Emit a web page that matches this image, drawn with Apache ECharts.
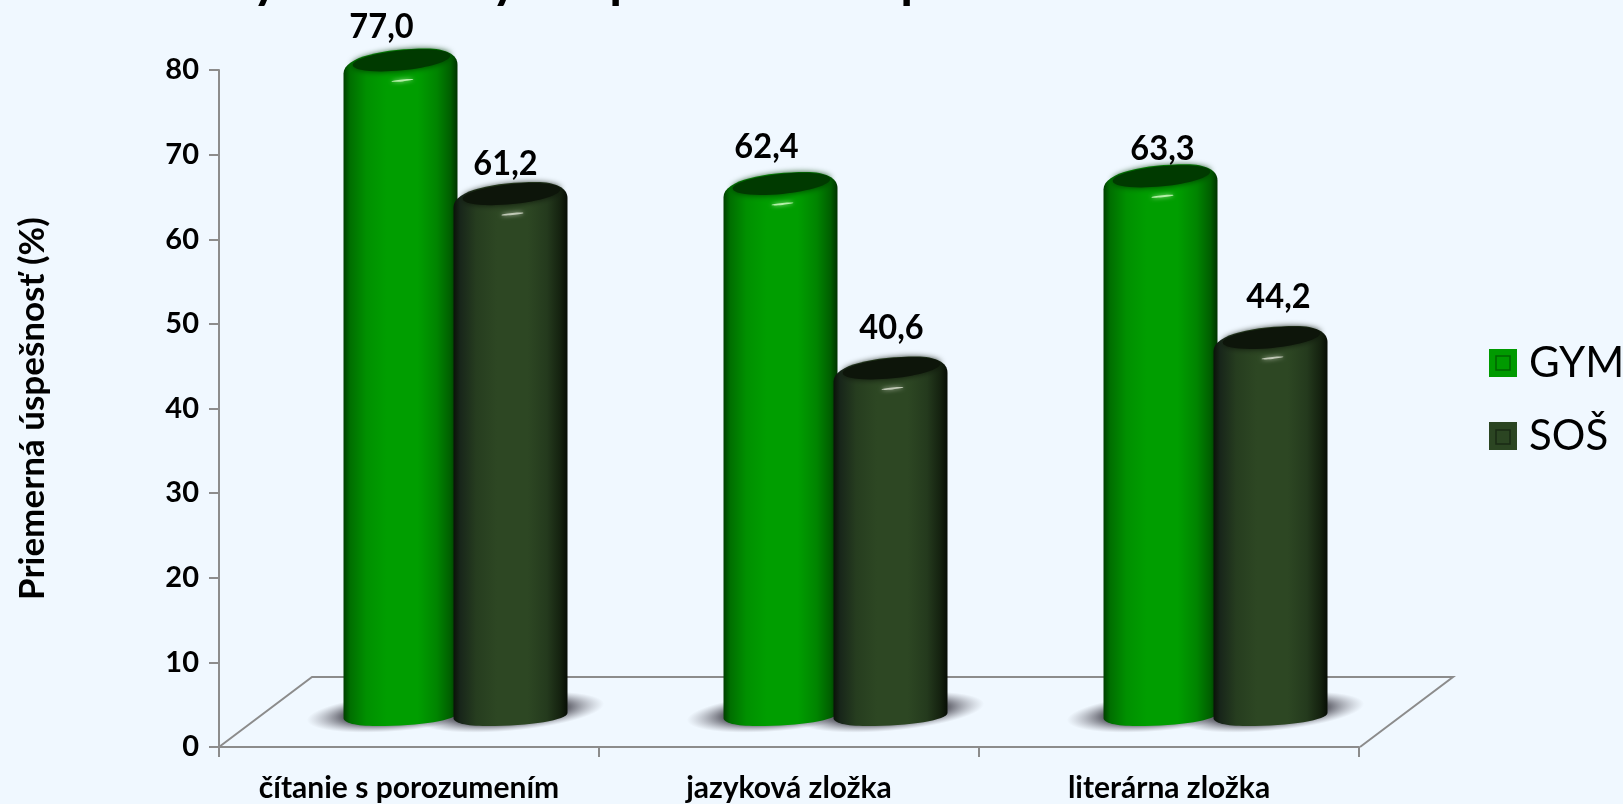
<!DOCTYPE html>
<html><head><meta charset="utf-8">
<style>html,body{margin:0;padding:0;background:#f0f8ff}#c{width:1623px;height:804px}</style>
<script src="https://cdn.jsdelivr.net/npm/echarts@6/dist/echarts.min.js"></script>
</head><body><div id="c"></div>
<script>
const categories = ['čítanie s porozumením', 'jazyková zložka', 'literárna zložka'];
const gymValues = [77.0, 62.4, 63.3];
const sosValues = [61.2, 40.6, 44.2];
const yTicks = {min: 0, max: 80, interval: 10};
const yTitle = 'Priemerná úspešnosť (%)';

const DEPTH_X = 46.5, DEPTH_Y = -35, RX = 57, OFFSET = 55;
const gymNudge = [[-19,-34],[-14,-37],[2,-28]];
const sosNudge = [[-5,-30],[1,-41],[8,-41]];
const gymStyle = {stops:['#003f00','#006f00','#009000','#009e00','#009e00','#008400','#005e00','#003300'], cap:'#003a00', glow:'#b4f0a8'};
const sosStyle = {stops:['#0a1208','#18261a','#263d1f','#2d4723','#2d4723','#243a1d','#14210f','#070d05'], cap:'#0d150a', glow:'#c0c8b6'};
const stopAt = [0,.06,.2,.38,.65,.82,.94,1];

function sideGrad(s){
  return {type:'linear',x:0,y:0,x2:1,y2:0,colorStops:s.stops.map((c,i)=>({offset:stopAt[i],color:c}))};
}
function cylinder(style, side, nudges){
  return function(params, api){
    const i = api.value(0), v = api.value(1);
    const top = api.coord([i, v]), base = api.coord([i, 0]);
    const cx = top[0] + DEPTH_X + side*OFFSET;
    const ty = top[1] + DEPTH_Y, by = base[1] + DEPTH_Y;
    const tilt = 0.1;
    const n = nudges[i];
    const L = cx-RX, R = cx+RX;
    const outline = `M${L} ${ty+13} C${L} ${ty-4} ${cx-15} ${ty-12} ${cx+26} ${ty-12} C${cx+45} ${ty-12} ${R} ${ty-6} ${R} ${ty+4} `+
      `L${R} ${by+1} C${R} ${by+8} ${cx+20} ${by+14} ${cx-24} ${by+14} C${cx-45} ${by+14} ${L} ${by+11} ${L} ${by+6} Z`;
    return {type:'group',children:[
      {type:'path',shape:{pathData:outline},style:{fill:sideGrad(style)}},
      {type:'ellipse',x:cx+1,y:ty,rotation:tilt,shape:{cx:0,cy:0,rx:RX-8,ry:10},style:{fill:style.cap,shadowBlur:6,shadowColor:style.cap}},
      {type:'ellipse',x:cx+2,y:ty+20,rotation:tilt,shape:{cx:0,cy:0,rx:11,ry:1},style:{fill:style.glow,shadowBlur:4,shadowColor:style.glow}},
      {type:'text',x:cx+n[0],y:ty+n[1],scaleX:.93,style:{text:v.toFixed(1).replace('.',','),font:'bold 35px Lato',fill:'#000',align:'center',verticalAlign:'middle'}}
    ]};
  };
}
function shadow(side){
  return function(params, api){
    const i = api.value(0);
    const base = api.coord([i, 0]);
    const cx = base[0] + DEPTH_X + side*OFFSET;
    const by = base[1] + DEPTH_Y;
    const ry = 19, rx = 94;
    return {type:'circle',x:cx,y:by,rotation:0.09,scaleX:rx/ry,shape:{cx:0,cy:0,r:ry},
      style:{fill:{type:'radial',x:.5,y:.5,r:.5,colorStops:[
        {offset:0,color:'rgba(80,80,90,.95)'},{offset:.62,color:'rgba(90,90,100,.9)'},{offset:1,color:'rgba(150,150,160,0)'}]}}};
  };
}
const pairs = a => a.map((v,i)=>[i,v]);
const chart = echarts.init(document.getElementById('c'), null, {renderer:'canvas'});
const axisLine = {show:true,lineStyle:{color:'#8c8c8c',width:2}};
const axisTick = {show:true,length:10,lineStyle:{color:'#8c8c8c',width:2}};
const titleFragments = [[266,'y'],[505,'y'],[624,'p'],[915,'p']];
chart.setOption({
  animation:false,
  backgroundColor:'#f0f8ff',
  grid:{left:219,right:264,top:70,bottom:57},
  legend:{show:true,orient:'vertical',left:1489,top:342,padding:0,itemWidth:28,itemHeight:28,itemGap:31,icon:'rect',
    data:['GYM','SOŠ'],textStyle:{fontFamily:'Lato',fontSize:42,color:'#000',padding:[0,0,0,7]}},
  xAxis:{type:'category',data:categories,boundaryGap:true,axisLine,axisTick,splitLine:{show:false},
    axisLabel:{fontFamily:'Lato',fontWeight:'bold',fontSize:30,color:'#000',margin:26,interval:0}},
  yAxis:{type:'value',min:yTicks.min,max:yTicks.max,interval:yTicks.interval,axisLine,axisTick,splitLine:{show:false},
    axisLabel:{fontFamily:'Lato',fontWeight:'bold',fontSize:29,color:'#000',margin:20},
    name:yTitle,nameLocation:'middle',nameGap:169,nameRotate:90,
    nameTextStyle:{fontFamily:'Lato',fontWeight:'bold',fontSize:35,color:'#000'}},
  graphic:[
    {type:'polyline',z:1,shape:{points:[[219,747],[312,677],[1453,677],[1360,747]]},style:{stroke:'#8c8c8c',lineWidth:2,fill:null}},
    ...[[1496,356,'#006400'],[1496,430,'#1a2a15']].map(p=>({type:'rect',z:20,shape:{x:p[0],y:p[1],width:14,height:14},style:{fill:null,stroke:p[2],lineWidth:1.5}})),
    ...titleFragments.map(t=>({type:'text',z:20,x:t[0],y:6,style:{text:t[1],font:'bold 52px Lato',fill:'#000',align:'center',verticalAlign:'bottom'}}))
  ],
  series:[
    {type:'custom',name:'shadow-a',coordinateSystem:'cartesian2d',z:2,renderItem:shadow(-1),encode:{x:0,y:1},data:pairs(gymValues),silent:true},
    {type:'custom',name:'shadow-b',coordinateSystem:'cartesian2d',z:2,renderItem:shadow(1),encode:{x:0,y:1},data:pairs(sosValues),silent:true},
    {type:'custom',name:'GYM',coordinateSystem:'cartesian2d',z:3,itemStyle:{color:'#009a00',borderColor:'#006b00'},renderItem:cylinder(gymStyle,-1,gymNudge),encode:{x:0,y:1},data:pairs(gymValues)},
    {type:'custom',name:'SOŠ',coordinateSystem:'cartesian2d',z:4,itemStyle:{color:'#2b4522',borderColor:'#1a2a15'},renderItem:cylinder(sosStyle,1,sosNudge),encode:{x:0,y:1},data:pairs(sosValues)}
  ]
});
</script></body></html>
